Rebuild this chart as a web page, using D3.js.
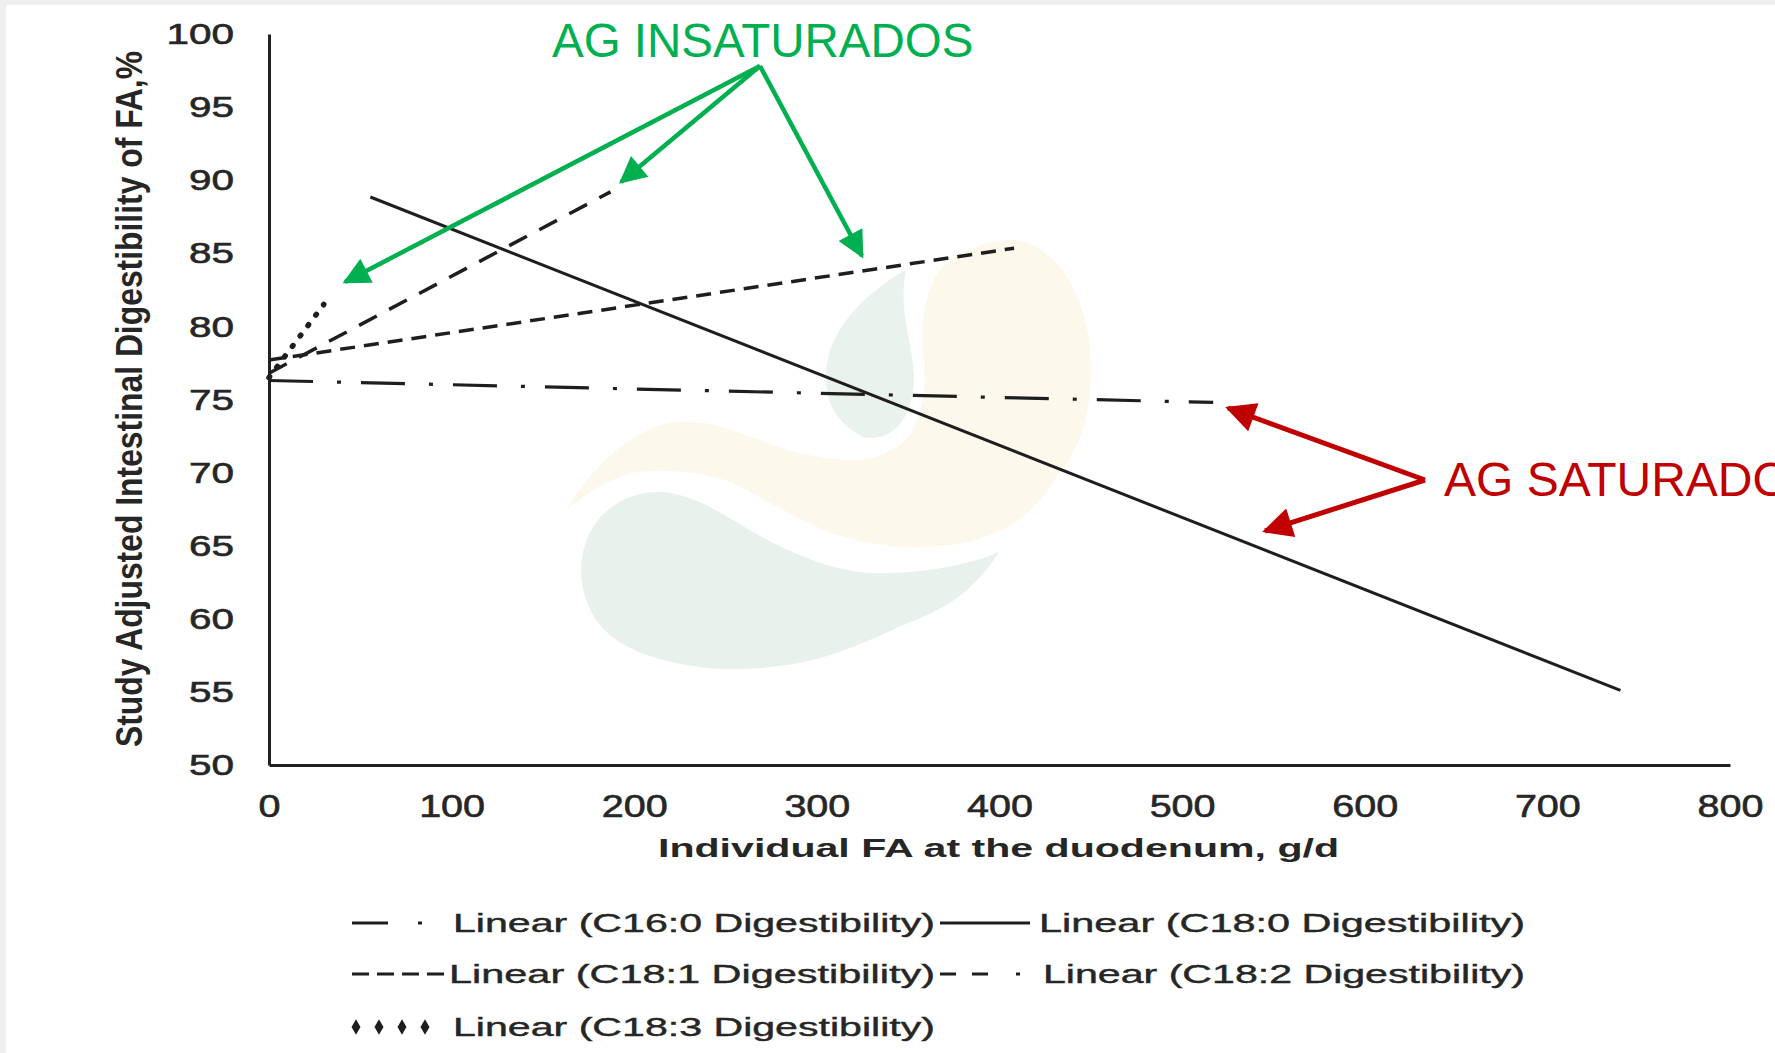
<!DOCTYPE html>
<html>
<head>
<meta charset="utf-8">
<script src="https://cdn.jsdelivr.net/npm/d3@7"></script>
<style>
  html, body { margin: 0; padding: 0; background: #efefef; overflow: hidden; }
  svg { display: block; font-family: "Liberation Sans", Arial, sans-serif; }
</style>
</head>
<body>
<div id="chart"></div>
<script>
// trendline end points
const series = ["C16:0", "C18:0", "C18:1", "C18:2", "C18:3"];
const xStart = [0, 55.5, 0, 0, 0];
const xEnd = [517, 740, 408, 187, 30];
const yStart = [76.3, 88.85, 77.7, 76.8, 76.5];
const yEnd = [74.8, 55.1, 85.35, 89.2, 81.5];

const xTicks = [0, 100, 200, 300, 400, 500, 600, 700, 800];
const yTicks = [50, 55, 60, 65, 70, 75, 80, 85, 90, 95, 100];

const legendLabels = series.map(s => `Linear (${s} Digestibility)`);

const width = 1775, height = 1053;
const margin = { left: 269, right: 45, top: 34, bottom: 288 };

const svg = d3.select("#chart").append("svg")
  .attr("width", width)
  .attr("height", height);

// slide background
svg.append("rect").attr("x", 6).attr("y", 5).attr("width", width).attr("height", height).attr("fill", "#fff");

// faint logo watermark
const wm = svg.append("g").attr("class", "watermark");
wm.append("path")
  .attr("d", "M566,510 C590,470 630,430 670,423 C720,415 760,445 799,453 C830,460 860,462 873,458 C895,450 908,440 915,425 C922,405 925,390 925,380 C922,340 918,300 940,270 C960,248 990,240 1014,240 C1060,245 1088,300 1091,360 C1093,410 1080,450 1058,475 C1040,505 1020,522 1002,530 C970,545 940,548 910,547 C870,546 840,537 817,527 C780,510 750,490 725,480 C700,472 660,468 632,473 C605,480 585,495 566,510 Z")
  .attr("fill", "#fcf8ec");
wm.append("path")
  .attr("d", "M906,270 C870,290 842,318 830,350 C820,385 826,420 866,438 C900,440 914,410 914,375 C912,340 898,310 906,270 Z")
  .attr("fill", "#eaf2ed");
wm.append("path")
  .attr("d", "M581,570 C582,520 620,490 662,492 C700,495 730,520 762,537 C800,558 840,572 873,573 C920,574 970,565 999,552 C975,590 945,610 910,622 C870,640 840,655 799,663 C760,670 730,670 706,668 C660,662 620,650 600,625 C588,610 581,590 581,570 Z")
  .attr("fill", "#e9f1ed");

const x = d3.scaleLinear().domain([0, 800]).range([margin.left, width - margin.right]);
const y = d3.scaleLinear().domain([50, 100]).range([height - margin.bottom, margin.top]);

// axes
const xAxis = svg.append("g")
  .attr("transform", `translate(0,${y(50)})`)
  .call(d3.axisBottom(x).tickValues(xTicks).tickSize(0).tickSizeOuter(0).tickPadding(30));
const yAxis = svg.append("g")
  .attr("transform", `translate(${x(0)},0)`)
  .call(d3.axisLeft(y).tickValues(yTicks).tickSize(0).tickSizeOuter(0).tickPadding(35));

[xAxis, yAxis].forEach(g => {
  g.select(".domain").attr("stroke", "#222").attr("stroke-width", 3);
  g.selectAll("text")
    .attr("fill", "#262626")
    .attr("stroke", "#262626")
    .attr("stroke-width", 0.6)
    .style("font-family", "'Liberation Sans', Arial, sans-serif");
});
xAxis.selectAll("text").style("font-size", "31px")
  .attr("textLength", d => String(d).length * 22).attr("lengthAdjust", "spacingAndGlyphs");
yAxis.selectAll("text").style("font-size", "30px")
  .attr("textLength", d => String(d).length * 22.5).attr("lengthAdjust", "spacingAndGlyphs");

// axis titles
svg.append("text")
  .attr("x", (x(0) + x(800)) / 2 - 1)
  .attr("y", 857)
  .attr("text-anchor", "middle")
  .attr("font-size", 25)
  .attr("font-weight", "bold")
  .attr("fill", "#262626")
  .attr("textLength", 681)
  .attr("lengthAdjust", "spacingAndGlyphs")
  .text("Individual FA at the duodenum, g/d");

svg.append("text")
  .attr("transform", "translate(142,399) scale(1.4,1) rotate(-90)")
  .attr("text-anchor", "middle")
  .attr("font-size", 26)
  .attr("font-weight", "bold")
  .attr("fill", "#262626")
  .attr("textLength", 696)
  .attr("lengthAdjust", "spacingAndGlyphs")
  .text("Study Adjusted Intestinal Digestibility of FA,%");

// line styles per series
const dash = ["44,24,4,20", null, "15,9", "20,14", "1,12"];
const lineW = [3.2, 3, 3.5, 3.5, 5.5];
const cap = ["butt", "butt", "butt", "butt", "round"];

const line = d3.line().x(d => x(d[0])).y(d => y(d[1]));
svg.append("g").selectAll("path")
  .data(series.map((s, i) => ({ i, pts: [[xStart[i], yStart[i]], [xEnd[i], yEnd[i]]] })))
  .enter().append("path")
  .attr("d", d => line(d.pts))
  .attr("fill", "none")
  .attr("stroke", "#1e1e1e")
  .attr("stroke-width", d => lineW[d.i])
  .attr("stroke-linecap", d => cap[d.i])
  .attr("stroke-dasharray", d => dash[d.i]);

// legend
const legX = [352, 940, 352, 940, 352];
const legW = [72, 90, 93, 92, 76];
const legRow = [932, 932, 983, 983, 1036];
const legTextX = [453, 1039, 449, 1043, 453];
const legTextW = [482, 486, 486, 482, 482];
const legDash = ["36,30,4,100", null, "17,8", "16,16,16,28,4,100", null];

const leg = svg.append("g").selectAll("g")
  .data(legendLabels.map((t, i) => ({ t, i })))
  .enter().append("g");

leg.filter(d => d.i !== 4).append("line")
  .attr("x1", d => legX[d.i])
  .attr("x2", d => legX[d.i] + legW[d.i])
  .attr("y1", d => legRow[d.i] - 9)
  .attr("y2", d => legRow[d.i] - 9)
  .attr("stroke", "#1e1e1e")
  .attr("stroke-width", 3)
  .attr("stroke-dasharray", d => legDash[d.i]);

leg.filter(d => d.i === 4).selectAll("path")
  .data(d3.range(4))
  .enter().append("path")
  .attr("d", d3.symbol(d3.symbolDiamond, 70))
  .attr("transform", k => `translate(${legX[4] + 4 + k * 23},${legRow[4] - 9})`)
  .attr("fill", "#1e1e1e");

leg.append("text")
  .attr("x", d => legTextX[d.i])
  .attr("y", d => legRow[d.i])
  .attr("font-size", 25)
  .attr("fill", "#262626")
  .attr("stroke", "#262626")
  .attr("stroke-width", 0.4)
  .attr("textLength", d => legTextW[d.i])
  .attr("lengthAdjust", "spacingAndGlyphs")
  .text(d => d.t);

// annotations
const defs = svg.append("defs");
[["green", "#00b050"], ["red", "#c00000"]].forEach(([id, c]) => {
  defs.append("marker")
    .attr("id", "arrow-" + id)
    .attr("viewBox", "0 0 10 10")
    .attr("refX", 9).attr("refY", 5)
    .attr("markerWidth", 7).attr("markerHeight", 6)
    .attr("markerUnits", "strokeWidth")
    .attr("orient", "auto")
    .append("path").attr("d", "M0,0 L10,5 L0,10 Z").attr("fill", c);
});

const greenFrom = [760, 66];
const greenTo = [[345, 282], [621, 182], [862, 256]];
const redFrom = [1425, 480];
const redTo = [[1228, 408], [1265, 531]];

svg.append("g").selectAll("line")
  .data(greenTo).enter().append("line")
  .attr("x1", greenFrom[0]).attr("y1", greenFrom[1])
  .attr("x2", d => d[0]).attr("y2", d => d[1])
  .attr("stroke", "#00b050").attr("stroke-width", 4.5)
  .attr("marker-end", "url(#arrow-green)");

svg.append("g").selectAll("line")
  .data(redTo).enter().append("line")
  .attr("x1", redFrom[0]).attr("y1", redFrom[1])
  .attr("x2", d => d[0]).attr("y2", d => d[1])
  .attr("stroke", "#c00000").attr("stroke-width", 5)
  .attr("marker-end", "url(#arrow-red)");

svg.append("text")
  .attr("x", 552).attr("y", 57)
  .attr("font-size", 47.5)
  .attr("fill", "#00b050")
  .text("AG INSATURADOS");

svg.append("text")
  .attr("x", 1444).attr("y", 496)
  .attr("font-size", 48)
  .attr("fill", "#c00000")
  .text("AG SATURADOS");
</script>
</body>
</html>
